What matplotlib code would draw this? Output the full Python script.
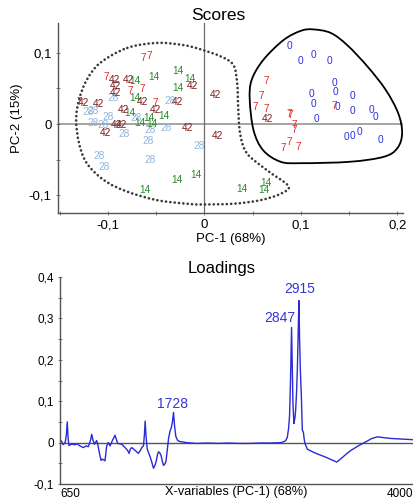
import matplotlib.pyplot as plt
from matplotlib.path import Path
from matplotlib.patches import PathPatch
from matplotlib.ticker import FuncFormatter, MultipleLocator

plt.rcParams['font.family'] = ['Liberation Sans', 'DejaVu Sans']

# ---- scores (PC-1, PC-2) per group label ----
s0_x = [0.088, 0.100, 0.113, 0.130, 0.135, 0.136, 0.111, 0.113, 0.153, 0.138,
        0.154, 0.173, 0.177, 0.116, 0.147, 0.154, 0.161, 0.182]
s0_y = [0.110, 0.088, 0.097, 0.089, 0.058, 0.045, 0.042, 0.028, 0.039, 0.024,
        0.018, 0.020, 0.010, 0.007, -0.018, -0.017, -0.011, -0.023]

s7_x = [-0.063, -0.057, -0.102, -0.077, -0.064, -0.130, -0.051,
        0.064, 0.059, 0.053, 0.064, 0.088, 0.089, 0.135, 0.093, 0.093, 0.088, 0.082, 0.097]
s7_y = [0.093, 0.095, 0.066, 0.047, 0.049, 0.031, 0.029,
        0.060, 0.039, 0.024, 0.021, 0.014, 0.013, 0.025, -0.001, -0.009, -0.025, -0.034, -0.032]

s14_x = [-0.072, -0.052, -0.027, -0.015, -0.028, -0.072, -0.077, -0.058, -0.042,
         -0.067, -0.054, -0.029, -0.009, -0.062, 0.039, 0.064, 0.062]
s14_y = [0.060, 0.066, 0.074, 0.064, 0.050, 0.036, 0.016, 0.009, 0.011,
         0.001, 0.000, -0.078, -0.072, -0.092, -0.091, -0.083, -0.093]

s28_x = [-0.095, -0.121, -0.115, -0.036, -0.071, -0.100, -0.115, -0.105, -0.040,
         -0.056, -0.083, -0.058, -0.005, -0.109, -0.056, -0.104]
s28_y = [0.036, 0.017, 0.018, 0.032, 0.009, 0.010, 0.002, -0.001, -0.005,
         -0.009, -0.014, -0.024, -0.031, -0.045, -0.050, -0.060]

s42_x = [-0.093, -0.079, -0.012, -0.092, -0.092, -0.125, -0.110, -0.064, -0.028,
         -0.084, -0.051, -0.091, -0.086, -0.018, -0.103, 0.011, 0.014, 0.065]
s42_y = [0.062, 0.062, 0.054, 0.054, 0.043, 0.030, 0.028, 0.031, 0.031,
         0.020, 0.020, -0.001, -0.001, -0.005, -0.013, 0.041, -0.017, 0.007]

groups = ['0', '7', '14', '28', '42']
group_colors = {'0': '#2f2fe0', '7': '#e42a2a', '14': '#2a8a2a',
                '28': '#8db6de', '42': '#7c1c1c'}

# outlines drawn by hand around the clusters
dot_x = [-0.080, -0.049, -0.022, -0.004, 0.017, 0.030, 0.034, 0.035, 0.037, 0.044,
         0.065, 0.087, 0.079, 0.058, 0.030, -0.004, -0.018, -0.049, -0.080, -0.104,
         -0.122, -0.130, -0.133, -0.130, -0.122, -0.108]
dot_y = [0.107, 0.114, 0.111, 0.105, 0.095, 0.083, 0.057, 0.024, -0.013, -0.041,
         -0.065, -0.087, -0.098, -0.107, -0.112, -0.113, -0.112, -0.107, -0.095, -0.079,
         -0.055, -0.027, 0.006, 0.034, 0.062, 0.086]
sol_x = [0.113, 0.131, 0.148, 0.169, 0.188, 0.201, 0.205, 0.200, 0.186, 0.151,
         0.100, 0.079, 0.061, 0.051, 0.047, 0.049, 0.061, 0.082, 0.100]
sol_y = [0.133, 0.128, 0.111, 0.081, 0.048, 0.015, -0.013, -0.034, -0.046, -0.053,
         -0.055, -0.053, -0.037, -0.009, 0.034, 0.062, 0.090, 0.118, 0.131]

# ---- loadings PC-1 ----
wavenumber = [650, 665, 681, 700, 712, 720, 728, 736, 760, 793, 815, 840, 872, 900, 920,
              940, 952, 962, 977, 999, 1010, 1021, 1040, 1052, 1062, 1078, 1094, 1110,
              1126, 1148, 1162, 1173, 1185, 1199, 1237, 1268, 1290, 1307, 1320, 1332,
              1364, 1395, 1415, 1427, 1443, 1452, 1459, 1466, 1478, 1507, 1525, 1538,
              1552, 1564, 1575, 1586, 1598, 1611, 1622, 1633, 1645, 1656, 1668, 1681,
              1695, 1706, 1718, 1728, 1738, 1750, 1765, 1782, 1850, 1950, 2050, 2150,
              2250, 2350, 2450, 2550, 2650, 2750, 2790, 2807, 2820, 2829, 2838, 2848,
              2855, 2861, 2870, 2880, 2887, 2895, 2903, 2912, 2918, 2924, 2932, 2941,
              2950, 2955, 2960, 2968, 2975, 2998, 3030, 3061, 3120, 3180, 3240, 3277,
              3320, 3370, 3410, 3480, 3553, 3610, 3664, 3720, 3791, 3860, 3930, 4000]
loading = [0.005, 0.004, -0.005, 0.0, 0.02, 0.05, 0.01, -0.007, -0.004, -0.005, -0.003,
           -0.008, -0.012, -0.008, -0.01, 0.005, 0.02, 0.008, -0.004, 0.005, -0.005,
           -0.02, -0.043, -0.040, -0.041, -0.044, -0.008, 0.0, -0.008, 0.005, 0.012,
           0.018, 0.008, -0.002, -0.004, -0.012, -0.018, -0.026, -0.015, -0.012,
           -0.019, -0.026, -0.018, -0.012, -0.008, 0.02, 0.052, 0.02, -0.015, -0.035,
           -0.05, -0.062, -0.055, -0.045, -0.03, -0.022, -0.025, -0.032, -0.045,
           -0.055, -0.052, -0.046, -0.02, 0.01, 0.028, 0.035, 0.05, 0.073, 0.04,
           0.015, 0.006, 0.003, 0.0, -0.002, -0.001, -0.002, -0.001, -0.002, -0.002,
           -0.001, -0.001, 0.0, 0.004, 0.012, 0.035, 0.065, 0.15, 0.278, 0.18, 0.095,
           0.046, 0.06, 0.08, 0.12, 0.178, 0.28, 0.343, 0.25, 0.17, 0.111, 0.03,
           0.028, 0.025, 0.008, -0.002, -0.016, -0.02, -0.024, -0.03, -0.036, -0.043,
           -0.047, -0.038, -0.027, -0.019, -0.008, 0.002, 0.01, 0.014, 0.012, 0.010,
           0.009, 0.008, 0.007]
peak_pos = [1728, 2847, 2915]
peak_txt = ['1728', '2847', '2915']


def comma(v, pos):
    s = '%g' % round(v, 3)
    return s.replace('.', ',')


def smooth_outline(xs, ys):
    # closed Catmull-Rom outline handed to matplotlib as cubic Bezier segments
    n = len(xs)
    verts = [(xs[0], ys[0])]
    codes = [Path.MOVETO]
    for i in range(n):
        p0 = (xs[i - 1], ys[i - 1])
        p1 = (xs[i], ys[i])
        p2 = (xs[(i + 1) % n], ys[(i + 1) % n])
        p3 = (xs[(i + 2) % n], ys[(i + 2) % n])
        c1 = (p1[0] + (p2[0] - p0[0]) / 6, p1[1] + (p2[1] - p0[1]) / 6)
        c2 = (p2[0] - (p3[0] - p1[0]) / 6, p2[1] - (p3[1] - p1[1]) / 6)
        verts += [c1, c2, p2]
        codes += [Path.CURVE4] * 3
    return Path(verts, codes)


fig = plt.figure(figsize=(4.13, 5.0), dpi=100)

# ---------------- Scores ----------------
ax1 = fig.add_axes((0.140, 0.574, 0.836, 0.380))
ax1.set_xlim(-0.152, 0.206)
ax1.set_ylim(-0.125, 0.142)
ax1.axhline(0, color='#8c8c8c', lw=1.1, zorder=1)
ax1.axvline(0, color='#6e6e6e', lw=0.9, zorder=1)

dotted = PathPatch(smooth_outline(dot_x, dot_y), fill=False, ec='#3a3a3a',
                   lw=1.9, ls=(0, (0.05, 1.6)), zorder=2)
dotted.set_capstyle('round')
ax1.add_patch(dotted)
ax1.add_patch(PathPatch(smooth_outline(sol_x, sol_y), fill=False, ec='black',
                        lw=1.3, zorder=2))

data = {'0': (s0_x, s0_y), '7': (s7_x, s7_y), '14': (s14_x, s14_y),
        '28': (s28_x, s28_y), '42': (s42_x, s42_y)}
for g in ['28', '14', '42', '7', '0']:
    xs, ys = data[g]
    for x, y in zip(xs, ys):
        ax1.text(x, y, g, color=group_colors[g], fontsize=7.3, ha='center',
                 va='center', zorder=3)

for side in ['top', 'right']:
    ax1.spines[side].set_visible(False)
for side in ['left', 'bottom']:
    ax1.spines[side].set_color('#555555')
    ax1.spines[side].set_linewidth(1.0)
ax1.set_xticks([-0.1, 0, 0.1, 0.2])
ax1.set_yticks([-0.1, 0, 0.1])
ax1.xaxis.set_minor_locator(MultipleLocator(0.05))
ax1.yaxis.set_minor_locator(MultipleLocator(0.05))
ax1.xaxis.set_major_formatter(FuncFormatter(comma))
ax1.yaxis.set_major_formatter(FuncFormatter(comma))
ax1.tick_params(which='both', direction='inout', length=3, width=0.6,
                color='#666666', labelsize=9.5, pad=3)
ax1.set_xlabel('PC-1 (68%)', fontsize=9.5, labelpad=1)
ax1.set_ylabel('PC-2 (15%)', fontsize=9.5, labelpad=4)
fig.text(218 / 413, 1 - 15 / 500, 'Scores', fontsize=12.5, ha='center', va='center')

# ---------------- Loadings ----------------
ax2 = fig.add_axes((0.145, 0.032, 0.855, 0.414))
ax2.set_xlim(650, 4000)
ax2.set_ylim(-0.1, 0.4)
ax2.axhline(0, color='#555555', lw=1.0, zorder=1)
ax2.plot(wavenumber, loading, color='#2a2ad8', lw=1.0, zorder=2)

label_xy = [(1716, 0.093), (2735, 0.300), (2922, 0.371)]
for txt, (lx, ly) in zip(peak_txt, label_xy):
    ax2.text(lx, ly, txt, color='#3535d8', fontsize=10, ha='center', va='center')

for side in ['top', 'right']:
    ax2.spines[side].set_visible(False)
for side in ['left', 'bottom']:
    ax2.spines[side].set_color('#555555')
    ax2.spines[side].set_linewidth(1.0)
ax2.set_xticks([650, 4000])
ax2.set_xticklabels(['650', '4000'])
ax2.set_yticks([-0.1, 0, 0.1, 0.2, 0.3, 0.4])
ax2.yaxis.set_minor_locator(MultipleLocator(0.05))
ax2.yaxis.set_major_formatter(FuncFormatter(comma))
ax2.tick_params(axis='y', which='both', direction='inout', length=3, width=0.6,
                color='#666666', labelsize=8.5, pad=3)
ax2.tick_params(axis='x', length=0, labelsize=8.5, pad=3)
xl = ax2.get_xticklabels()
xl[0].set_ha('left')
xl[1].set_ha('right')
ax2.set_xlabel('X-variables (PC-1) (68%)', fontsize=9.2, labelpad=-10)
fig.text(222 / 413, 1 - 268 / 500, 'Loadings', fontsize=12, ha='center', va='center')

plt.savefig('out.png', dpi=100)
